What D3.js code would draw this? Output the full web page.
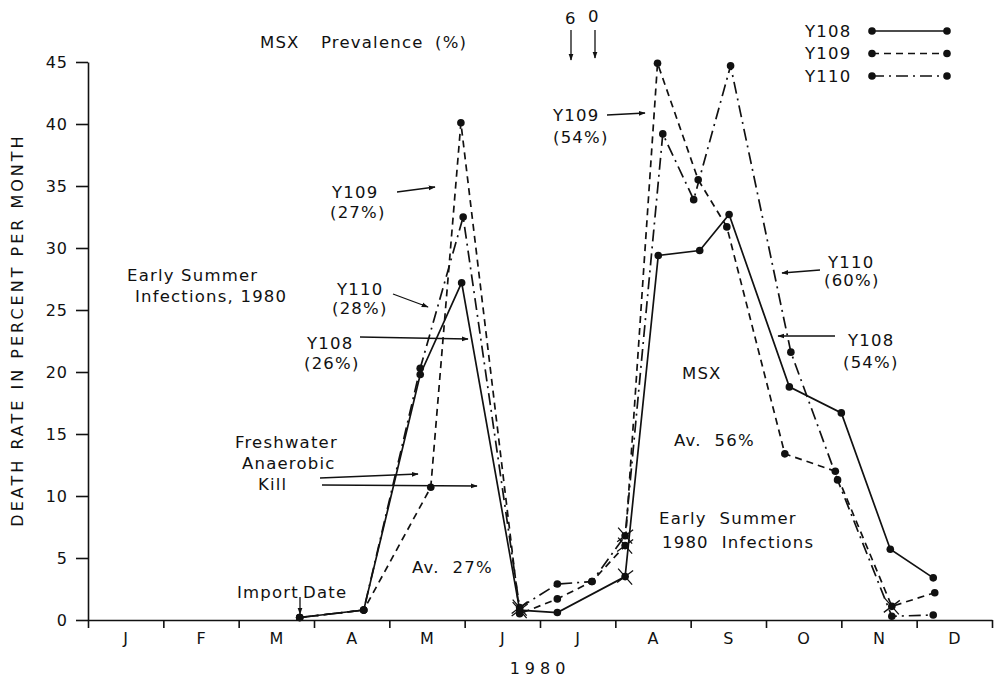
<!DOCTYPE html>
<html>
<head>
<meta charset="utf-8">
<script src="https://cdn.jsdelivr.net/npm/d3@7"></script>
<style>
  body { margin: 0; background: #fff; }
  svg text { font-family: "DejaVu Sans", sans-serif; fill: #111; white-space: pre; }
</style>
</head>
<body>
<svg id="chart" width="997" height="678"></svg>
<script>
// month positions are in months from Jan 1 (0..12)
var months = ["J","F","M","A","M","J","J","A","S","O","N","D"];
var yTicks = [0, 5, 10, 15, 20, 25, 30, 35, 40, 45];

var y108_t = [2.81, 3.66, 4.41, 4.96, 5.73, 6.23, 7.13, 7.57, 8.12, 8.51, 9.31, 10.0, 10.65, 11.22];
var y108_v = [0.2, 0.8, 19.8, 27.2, 0.8, 0.6, 3.5, 29.4, 29.8, 32.7, 18.8, 16.7, 5.7, 3.4];

var y109_t = [2.81, 3.66, 4.55, 4.95, 5.73, 6.23, 6.69, 7.13, 7.56, 8.10, 8.48, 9.25, 9.92, 10.67, 11.24];
var y109_v = [0.2, 0.8, 10.7, 40.1, 0.5, 1.7, 3.1, 6.0, 44.9, 35.5, 31.7, 13.4, 12.0, 1.1, 2.2];

var y110_t = [2.81, 3.66, 4.41, 4.98, 5.73, 6.23, 6.69, 7.13, 7.63, 8.04, 8.53, 9.33, 9.95, 10.67, 11.22];
var y110_v = [0.2, 0.8, 20.3, 32.5, 1.0, 2.9, 3.1, 6.8, 39.2, 33.9, 44.7, 21.6, 11.3, 0.3, 0.4];

// points that carry a hand-drawn cross on the original
var y108_cross = [4, 6];
var y109_cross = [7, 13];
var y110_cross = [4, 7];

var seriesNames = ["Y108", "Y109", "Y110"];
var dashes = [null, "7,5", "12,5,2,5"];

var svg = d3.select("#chart");
var x = d3.scaleLinear().domain([0, 12]).range([88, 992]);
var y = d3.scaleLinear().domain([0, 45]).range([620, 62]);

// arrow head
svg.append("defs").append("marker")
    .attr("id", "ah").attr("viewBox", "0 0 10 10")
    .attr("refX", 9).attr("refY", 5)
    .attr("markerWidth", 7).attr("markerHeight", 7)
    .attr("markerUnits", "userSpaceOnUse")
    .attr("orient", "auto")
  .append("path").attr("d", "M0,1.5 L10,5 L0,8.5 Z").attr("fill", "#111");

// axes
var gy = svg.append("g").attr("transform", "translate(" + x(0) + ",0)")
    .call(d3.axisLeft(y).tickValues(yTicks).tickSize(12).tickPadding(8).tickSizeOuter(0));
gy.selectAll("text").style("font-size", "16px").style("letter-spacing", "1px");

var gx = svg.append("g").attr("transform", "translate(0," + y(0) + ")")
    .call(d3.axisBottom(x).tickValues(d3.range(0, 13)).tickSize(8).tickFormat("").tickSizeOuter(0));

svg.selectAll(".domain, .tick line").attr("stroke", "#111").attr("stroke-width", 1.6);

svg.append("g").selectAll("text").data(months).join("text")
    .attr("x", function(d, i){ return x(i + 0.5); })
    .attr("y", 644)
    .attr("text-anchor", "middle")
    .style("font-size", "16px")
    .text(function(d){ return d; });

svg.append("text").attr("x", x(6)).attr("y", 674)
    .attr("text-anchor", "middle").style("font-size", "16px").style("letter-spacing", "5px")
    .text("1980");

svg.append("text")
    .attr("transform", "translate(23,330) rotate(-90)")
    .attr("text-anchor", "middle").style("font-size", "16px").style("letter-spacing", "3px")
    .text("DEATH RATE IN PERCENT PER MONTH");

// series
var series = [
  {t: y108_t, v: y108_v, c: y108_cross},
  {t: y109_t, v: y109_v, c: y109_cross},
  {t: y110_t, v: y110_v, c: y110_cross}
];

var line = d3.line()
    .x(function(d){ return x(d[0]); })
    .y(function(d){ return y(d[1]); });

series.forEach(function(s, k){
  var pts = d3.zip(s.t, s.v);
  var g = svg.append("g");
  g.append("path").datum(pts)
      .attr("d", line)
      .attr("fill", "none").attr("stroke", "#111").attr("stroke-width", 1.7)
      .attr("stroke-dasharray", dashes[k]);
  g.selectAll("circle").data(pts).join("circle")
      .attr("cx", function(d){ return x(d[0]); })
      .attr("cy", function(d){ return y(d[1]); })
      .attr("r", 3.8).attr("fill", "#111");
  g.selectAll("path.cross").data(s.c.map(function(i){ return pts[i]; })).join("path")
      .attr("class", "cross")
      .attr("d", function(d){
        var cx = x(d[0]), cy = y(d[1]);
        return "M" + (cx - 7) + "," + (cy - 8) + "L" + (cx + 7) + "," + (cy + 8) +
               "M" + (cx + 8) + "," + (cy - 6) + "L" + (cx - 8) + "," + (cy + 6);
      })
      .attr("stroke", "#111").attr("stroke-width", 1.3);
});

// legend
var lg = svg.append("g");
seriesNames.forEach(function(n, k){
  var ly = 31 + k * 22.5;
  lg.append("text").attr("x", 805).attr("y", ly).attr("dy", "0.36em")
      .style("font-size", "16.5px").style("letter-spacing", "1.2px").text(n);
  lg.append("line").attr("x1", 872).attr("x2", 947).attr("y1", ly).attr("y2", ly)
      .attr("stroke", "#111").attr("stroke-width", 1.7).attr("stroke-dasharray", dashes[k]);
  lg.selectAll(null).data([872, 947]).enter().append("circle")
      .attr("cx", function(d){ return d; }).attr("cy", ly).attr("r", 3.8).attr("fill", "#111");
});

// annotations (layout only)
var notes = [
  {x: 260, y: 42, s: "MSX"}, {x: 321, y: 42, s: "Prevalence"}, {x: 435, y: 42, s: "(%)"},
  {x: 565, y: 18, s: "6"},
  {x: 588, y: 16, s: "0"},
  {x: 553, y: 115, s: "Y109"}, {x: 553, y: 137, s: "(54%)"},
  {x: 828, y: 262, s: "Y110"}, {x: 824, y: 280, s: "(60%)"},
  {x: 848, y: 340, s: "Y108"}, {x: 843, y: 362, s: "(54%)"},
  {x: 682, y: 373, s: "MSX"},
  {x: 674, y: 440, s: "Av.  56%"},
  {x: 659, y: 518, s: "Early  Summer"}, {x: 662, y: 542, s: "1980  Infections"},
  {x: 332, y: 192, s: "Y109"}, {x: 330, y: 212, s: "(27%)"},
  {x: 337, y: 289, s: "Y110"}, {x: 332, y: 308, s: "(28%)"},
  {x: 127, y: 275, s: "Early Summer"}, {x: 135, y: 296, s: "Infections, 1980"},
  {x: 307, y: 343, s: "Y108"}, {x: 304, y: 363, s: "(26%)"},
  {x: 235, y: 442, s: "Freshwater"}, {x: 242, y: 463, s: "Anaerobic"}, {x: 258, y: 484, s: "Kill"},
  {x: 237, y: 592, s: "Import"}, {x: 303, y: 592, s: "Date"},
  {x: 412, y: 567, s: "Av.  27%"}
];
svg.append("g").selectAll("text").data(notes).join("text")
    .attr("x", function(d){ return d.x; })
    .attr("y", function(d){ return d.y; })
    .attr("dy", "0.36em")
    .style("font-size", "16.5px").style("letter-spacing", "1.2px")
    .text(function(d){ return d.s; });

var arrows = [
  [571, 30, 571, 60], [595, 30, 595, 58],
  [607, 115, 645, 113],
  [820, 270, 782, 273],
  [835, 336, 778, 336],
  [397, 192, 435, 187],
  [393, 294, 428, 307],
  [360, 337, 468, 339],
  [320, 478, 418, 474],
  [322, 485, 477, 486],
  [300, 597, 300, 614]
];
svg.append("g").selectAll("line").data(arrows).join("line")
    .attr("x1", function(d){ return d[0]; }).attr("y1", function(d){ return d[1]; })
    .attr("x2", function(d){ return d[2]; }).attr("y2", function(d){ return d[3]; })
    .attr("stroke", "#111").attr("stroke-width", 1.3)
    .attr("marker-end", "url(#ah)");
</script>
</body>
</html>
